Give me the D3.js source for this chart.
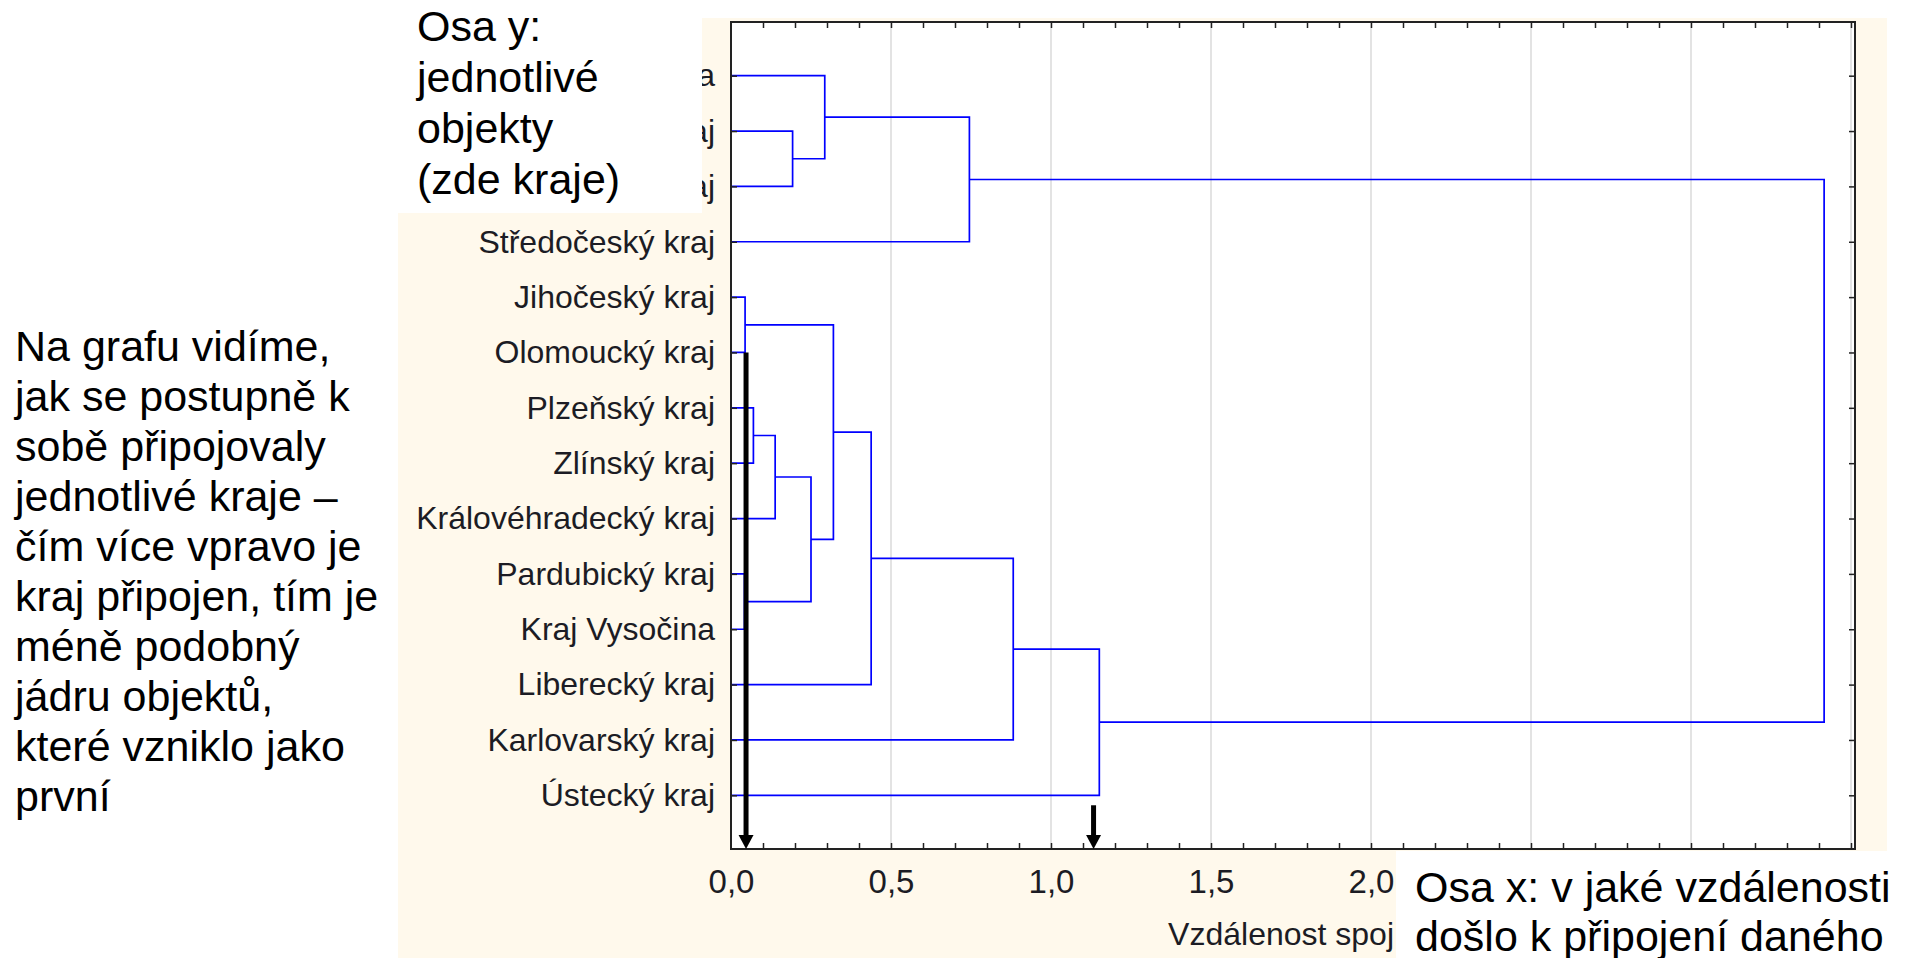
<!DOCTYPE html>
<html><head><meta charset="utf-8">
<script src="https://cdn.jsdelivr.net/npm/d3@7"></script>
<style>
body{margin:0;background:#fff;}
svg{display:block;}
text{font-family:"Liberation Sans",Arial,Helvetica,sans-serif;}
</style>
</head><body>
<svg id="c" width="1908" height="958"></svg>
<script>
// ---- data ----
const leaves = ["Hlavní město Praha","Jihomoravský kraj","Moravskoslezský kraj","Středočeský kraj",
  "Jihočeský kraj","Olomoucký kraj","Plzeňský kraj","Zlínský kraj","Královéhradecký kraj",
  "Pardubický kraj","Kraj Vysočina","Liberecký kraj","Karlovarský kraj","Ústecký kraj"];
// merges: [child A, child B, linkage distance]; new node ids continue after the leaves (14, 15, ...)
const mergeA = [9, 4, 6, 16, 1, 17, 0, 15, 21, 20, 22, 24, 23];
const mergeB = [10, 5, 7, 8, 2, 14, 18, 19, 11, 3, 12, 13, 25];
const mergeDist = [0.042, 0.044, 0.070, 0.138, 0.1925, 0.250, 0.293, 0.320, 0.438, 0.745, 0.882, 1.151, 3.416];
const xMajorTicks = [0, 0.5, 1.0, 1.5, 2.0, 2.5, 3.0, 3.5];
const xLabelTicks = [0, 0.5, 1.0, 1.5, 2.0];   // labels visible (the rest lie under the note box)
const xMinorTicks = d3.range(1, 36).map(i => i / 10);
const xTitle = "Vzdálenost spoj";
const noteLeft = ["Na grafu vidíme,","jak se postupně k","sobě připojovaly","jednotlivé kraje –",
  "čím více vpravo je","kraj připojen, tím je","méně podobný","jádru objektů,","které vzniklo jako","první"];
const noteY = ["Osa y:","jednotlivé","objekty","(zde kraje)"];
const noteX = ["Osa x: v jaké vzdálenosti","došlo k připojení daného"];
// annotation arrows: x = distance, start leaf, start offset (in leaf steps)
const arrowX = [0.047, 1.133];
const arrowFrom = ["Olomoucký kraj", "Ústecký kraj"];
const arrowOffset = [0, 0.18];

// ---- layout ----
const svg = d3.select("#c");
const L = 731, R = 1855, T = 22, B = 849;
const x = d3.scaleLinear().domain([0, 3.5125]).range([L, R]);
const y = d3.scalePoint().domain(leaves).range([T, B]).padding(0.97);
const fmt = v => d3.format(".1f")(v).replace(".", ",");
const FONT = '"Liberation Sans",Arial,sans-serif';

// background (slide image)
svg.append("rect").attr("x", 398).attr("y", 18).attr("width", 1887 - 398).attr("height", 958 - 18).attr("fill", "#fff9ec");
svg.append("rect").attr("x", L).attr("y", T).attr("width", R - L).attr("height", B - T).attr("fill", "#ffffff");

// gridlines
svg.append("g").selectAll("line").data(xMajorTicks.filter(v => v > 0)).join("line")
  .attr("x1", d => x(d)).attr("x2", d => x(d)).attr("y1", T).attr("y2", B)
  .attr("stroke", "#d4d4d4").attr("stroke-width", 1.3);

// dendrogram
const nodes = leaves.map(n => ({y: y(n), h: 0}));
const links = [];
mergeA.forEach((a, i) => {
  const A = nodes[a], Bn = nodes[mergeB[i]], h = mergeDist[i];
  links.push({A, B: Bn, h});
  nodes.push({y: (A.y + Bn.y) / 2, h});
});
svg.append("g").selectAll("path").data(links).join("path")
  .attr("d", d => `M${x(d.A.h)},${d.A.y}H${x(d.h)}V${d.B.y}H${x(d.B.h)}`)
  .attr("fill", "none").attr("stroke", "#0000ff").attr("stroke-width", 1.7);

// axes
const noDomain = g => g.select(".domain").remove();
svg.append("g").attr("transform", `translate(0,${B})`)
  .call(d3.axisBottom(x).tickValues(xMinorTicks).tickSize(-6).tickFormat(""))
  .call(noDomain).selectAll("line").attr("stroke", "#222").attr("stroke-width", 1.5);
svg.append("g").attr("transform", `translate(0,${T})`)
  .call(d3.axisTop(x).tickValues(xMinorTicks).tickSize(-6).tickFormat(""))
  .call(noDomain).selectAll("line").attr("stroke", "#222").attr("stroke-width", 1.5);
const xb = svg.append("g").attr("transform", `translate(0,${B})`)
  .call(d3.axisBottom(x).tickValues(xLabelTicks).tickSize(0).tickPadding(21).tickFormat(fmt))
  .call(noDomain);
xb.selectAll("text").attr("font-size", 33).attr("fill", "#1c1c24").style("font-family", FONT);

const yl = svg.append("g").attr("transform", `translate(${L},0)`)
  .call(d3.axisLeft(y).tickSize(-6).tickPadding(16))
  .call(noDomain);
yl.selectAll("line").attr("stroke", "#222").attr("stroke-width", 1.5);
yl.selectAll("text").attr("font-size", 32).attr("fill", "#1c1c24").style("font-family", FONT);
svg.append("g").attr("transform", `translate(${R},0)`)
  .call(d3.axisRight(y).tickSize(-6).tickFormat(""))
  .call(noDomain).selectAll("line").attr("stroke", "#222").attr("stroke-width", 1.5);

svg.append("text").attr("x", 1394).attr("y", 945).attr("text-anchor", "end")
  .attr("font-size", 32).attr("fill", "#1c1c24").text(xTitle);

// frame
svg.append("rect").attr("x", L).attr("y", T).attr("width", R - L).attr("height", B - T)
  .attr("fill", "none").attr("stroke", "#222").attr("stroke-width", 2);

// arrows
const step = y.step();
arrowX.forEach((v, i) => {
  const cx = x(v), y0 = y(arrowFrom[i]) + arrowOffset[i] * step, tip = B;
  const head = 14, hw = 7.5;
  svg.append("line").attr("x1", cx).attr("x2", cx).attr("y1", y0).attr("y2", tip - head + 1)
    .attr("stroke", "#000").attr("stroke-width", 5);
  svg.append("path").attr("d", `M${cx - hw},${tip - head}L${cx + hw},${tip - head}L${cx},${tip}Z`).attr("fill", "#000");
});

// overlay text boxes (white)
svg.append("rect").attr("x", 330).attr("y", 0).attr("width", 702 - 330).attr("height", 213).attr("fill", "#fff");
svg.append("rect").attr("x", 1396).attr("y", 851).attr("width", 1908 - 1396).attr("height", 958 - 851).attr("fill", "#fff");

const note = (lines, x0, y0, dy) => {
  svg.append("g").selectAll("text").data(lines).join("text")
    .attr("x", x0).attr("y", (d, i) => y0 + i * dy)
    .attr("font-size", 43).attr("fill", "#000").text(d => d);
};
note(noteLeft, 15, 361, 50);
note(noteY, 417, 41, 51);
note(noteX, 1415, 902, 49);
</script>
</body></html>
